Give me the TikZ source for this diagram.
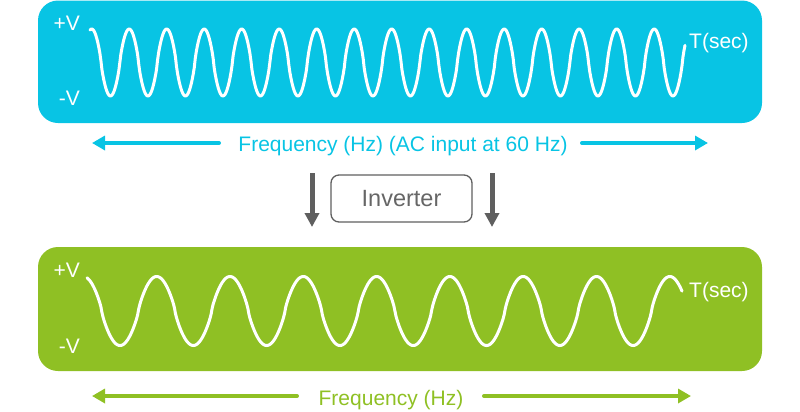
\documentclass[tikz,border=0pt]{standalone}
\usepackage{fontspec}
\setmainfont{Liberation Sans}
\usetikzlibrary{arrows.meta}
\definecolor{cyanbg}{RGB}{8,196,228}
\definecolor{greenbg}{RGB}{143,192,36}
\definecolor{arrgray}{RGB}{95,95,95}
\definecolor{txtgray}{RGB}{102,102,102}
\begin{document}
\begin{tikzpicture}[x=1bp,y=-1bp,
  panel/.style={rounded corners=20bp},
  wave/.style={white, line width=3bp, line join=round, line cap=round},
  lbl/.style={text=white, font=\fontsize{21bp}{25bp}\selectfont, inner sep=0pt},
  freq/.style={font=\fontsize{21bp}{25bp}\selectfont, inner sep=0pt},
  farrow/.style={line width=4bp, line cap=round, -{Triangle[length=13bp,width=14bp]}},
  garrow/.style={arrgray, line width=5bp, -{Triangle[length=14bp,width=14bp]}},
  invbox/.style={draw=arrgray, line width=1.3bp, rounded corners=8bp, minimum width=141bp, minimum height=47bp, text=txtgray, font=\fontsize{23.5bp}{28bp}\selectfont}
]
\useasboundingbox (0,0) rectangle (800,411);

% top panel
\fill[cyanbg, panel] (38,0.5) rectangle (762,123);
\draw[wave] plot[domain=90:685, samples=600] (\x, {62.5 - 33.5*sign(cos(9.6*(\x-91.7)))*(abs(cos(9.6*(\x-91.7)))+0.0001)^0.8});
\node[lbl, anchor=base east] (tpv) at (80,30) {+V};
\node[lbl, anchor=base east] (tmv) at (80,105) {-V};
\node[lbl, anchor=base west] (tts) at (689,48) {T(sec)};

\node[freq, text=cyanbg, anchor=base] (tfreq) at (403,151) {Frequency (Hz) (AC input at 60 Hz)};
\coordinate (tla) at (219,143);
\coordinate (tlb) at (92,143);
\coordinate (tra) at (582,143);
\coordinate (trb) at (708,143);
\draw[farrow, cyanbg] (tla) -- (tlb);
\draw[farrow, cyanbg] (tra) -- (trb);

% inverter
\node[invbox] (inv) at (401.5,198.5) {Inverter};
\coordinate (gla) at (312,173);
\coordinate (glb) at (312,227);
\coordinate (gra) at (492,173);
\coordinate (grb) at (492,227);
\draw[garrow] (gla) -- (glb);
\draw[garrow] (gra) -- (grb);

% bottom panel
\fill[greenbg, panel] (38,247) rectangle (762,371);
\draw[wave] plot[domain=87:682, samples=600] (\x, {311 - 34.5*sign(cos(4.9113*(\x-156.7)))*(abs(cos(4.9113*(\x-156.7)))+0.0001)^0.8});
\node[lbl, anchor=base east] (bpv) at (80,277) {+V};
\node[lbl, anchor=base east] (bmv) at (80,353) {-V};
\node[lbl, anchor=base west] (bts) at (689,297) {T(sec)};

\node[freq, text=greenbg, anchor=base] (bfreq) at (391,405) {Frequency (Hz)};
\coordinate (bla) at (297,396);
\coordinate (blb) at (92,396);
\coordinate (bra) at (484,396);
\coordinate (brb) at (691,396);
\draw[farrow, greenbg] (bla) -- (blb);
\draw[farrow, greenbg] (bra) -- (brb);
\end{tikzpicture}
\end{document}
